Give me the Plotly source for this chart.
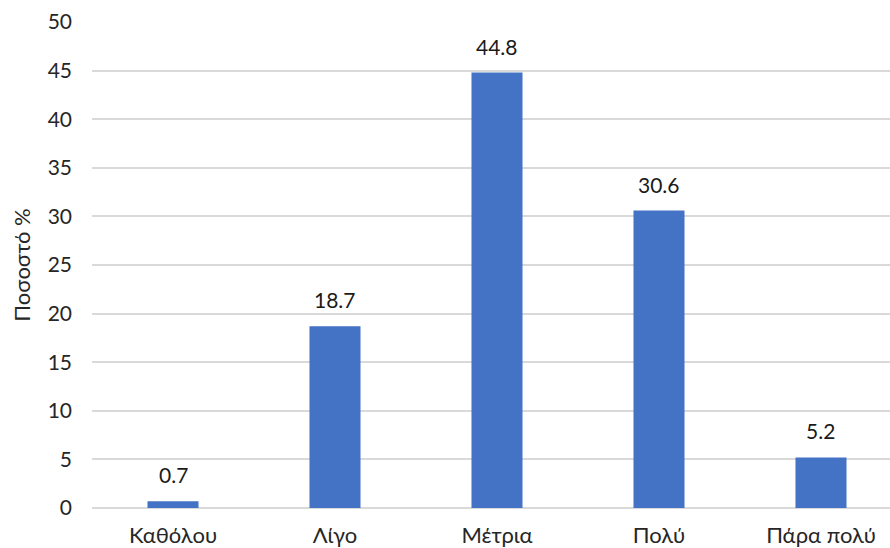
import plotly.graph_objects as go

categories = ["Καθόλου", "Λίγο", "Μέτρια", "Πολύ", "Πάρα πολύ"]
values = [0.7, 18.7, 44.8, 30.6, 5.2]
y_ticks = [0, 5, 10, 15, 20, 25, 30, 35, 40, 45, 50]

FONT = "Lato, 'Open Sans', sans-serif"
BAR_COLOR = "#4472C4"
GRID = "#D9D9D9"

fig = go.Figure(
    go.Bar(
        x=list(range(len(categories))),
        y=values,
        width=0.315,
        marker=dict(color=BAR_COLOR, line=dict(width=0)),
        hoverinfo="skip",
    )
)

for i, v in enumerate(values):
    fig.add_annotation(
        x=i, y=v, text=f"{v}", showarrow=False,
        yanchor="bottom", yshift=12,
        font=dict(family=FONT, size=21, color="#1a1a1a"),
    )

fig.update_layout(
    width=890, height=548,
    margin=dict(l=92, r=0, t=22, b=40),
    paper_bgcolor="white", plot_bgcolor="white",
    showlegend=False,
    font=dict(family=FONT, size=21, color="#262626"),
    xaxis=dict(
        tickmode="array",
        tickvals=list(range(len(categories))),
        ticktext=categories,
        range=[-0.5, 4.426],
        showgrid=False, zeroline=False, showline=False,
        ticks="", ticklabelstandoff=12, automargin=False,
        tickfont=dict(family=FONT, size=22, color="#262626"),
    ),
    yaxis=dict(
        range=[0, 50],
        tickvals=y_ticks,
        showgrid=True, gridcolor=GRID, gridwidth=1.5,
        zeroline=True, zerolinecolor=GRID, zerolinewidth=1.5,
        showline=False, ticks="", ticklabelstandoff=19, automargin=False,
        tickfont=dict(family=FONT, size=21, color="#262626"),
        title=dict(text="Ποσοστό %", standoff=10,
                   font=dict(family=FONT, size=22, color="#262626")),
    ),
)

fig.write_html("out.html")
